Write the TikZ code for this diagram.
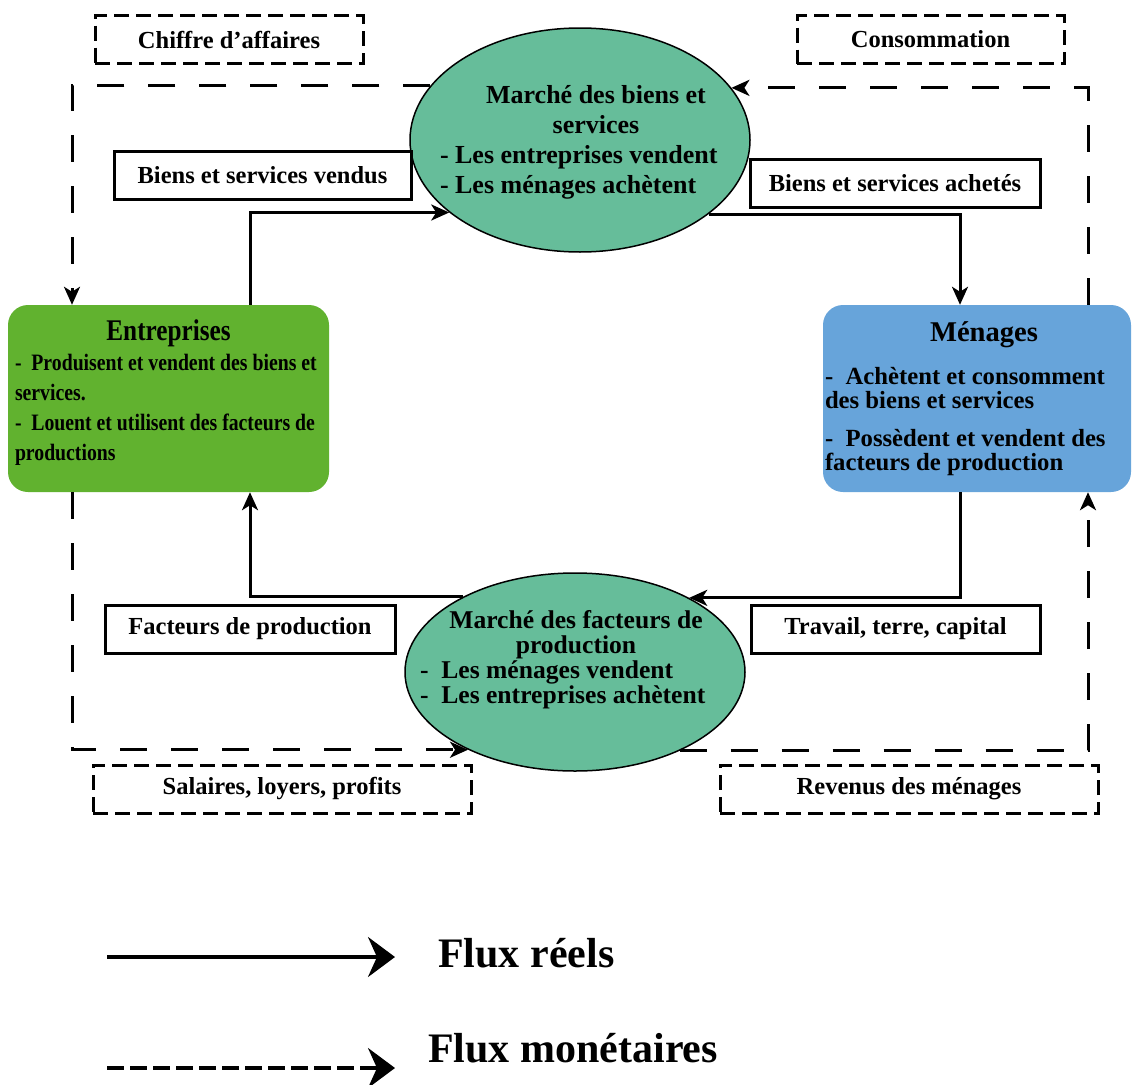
\documentclass[tikz,border=0pt]{standalone}
\usepackage{fontspec}
\setmainfont{Liberation Serif}
\newfontfamily\narrowserif[FakeStretch=0.84]{Liberation Serif}
\usetikzlibrary{shapes.geometric,arrows.meta}
\definecolor{marketgreen}{HTML}{66BD9A}
\definecolor{firmgreen}{HTML}{61B22F}
\definecolor{hhblue}{HTML}{67A4DA}
\lineskiplimit=-100pt

\tikzset{
  flowlabel/.style={draw, line width=3pt, font=\fontsize{24.5}{28}\selectfont\bfseries,
    minimum height=48pt, inner sep=0pt},
  moneylabel/.style={flowlabel, dash pattern=on 15pt off 7pt},
  market/.style={ellipse, draw, line width=1.5pt, fill=marketgreen, inner sep=0pt},
  mtext/.style={inner sep=0pt},
  agent/.style={rectangle, rounded corners=20pt, inner sep=0pt, minimum height=187pt},
  real/.style={line width=3pt, -{Stealth[length=18pt,width=16pt,inset=5pt]}},
  money/.style={real, dash pattern=on 27pt off 24pt},
  legtext/.style={inner sep=0pt, anchor=west, font=\fontsize{42}{46}\selectfont\bfseries},
  realleg/.style={line width=3.5pt, -{Stealth[length=27pt,width=40pt,inset=9pt]}},
  moneyleg/.style={realleg, dash pattern=on 17pt off 6pt}
}

\begin{document}
\begin{tikzpicture}[x=1pt,y=-1pt]
\useasboundingbox (0,0) rectangle (1132,1084);

% the two markets
\node [market, minimum width=340pt, minimum height=224pt] (bsm) at (580,140) {};
\node [market, minimum width=340pt, minimum height=198pt] (fpm) at (575,672) {};
\node [mtext, font=\fontsize{26}{30}\selectfont\bfseries] (bsmtxt) at (596,142)
  {\begin{minipage}{312pt}\centering Marché des biens et\\ services\par
   \raggedright - Les entreprises vendent\\ - Les ménages achètent\end{minipage}};
\node [mtext, font=\fontsize{25.6}{25}\selectfont\bfseries] (fpmtxt) at (576,660)
  {\begin{minipage}{312pt}\centering Marché des facteurs de\\ production\par
   \raggedright -~~Les ménages vendent\\ -~~Les entreprises achètent\end{minipage}};

% the two agents
\node [agent, fill=firmgreen, minimum width=321pt] (ent) at (168.5,398.5)
  {\begin{minipage}{307pt}{\centering\narrowserif\fontsize{30}{30}\selectfont\bfseries Entreprises\par}
   \raggedright\narrowserif\fontsize{23.5}{30}\selectfont\bfseries
   -~~Produisent et vendent des biens et\\ services.\\
   -~~Louent et utilisent des facteurs de\\ productions\par\vspace{12pt}\end{minipage}};
\node [agent, fill=hhblue, minimum width=308pt] (men) at (977,398.5)
  {\begin{minipage}{304pt}{\centering\fontsize{28.6}{30}\selectfont\bfseries\hspace*{14pt}Ménages\par}
   \raggedright\fontsize{24.7}{24}\selectfont\bfseries\vspace{19pt}
   -~~Achètent et consomment\\ des biens et services\par\vspace{14pt}
   -~~Possèdent et vendent des\\ facteurs de production\end{minipage}};

% labels of the flows
\node [flowlabel, minimum width=297pt] (bsv) at (262.5,175) {Biens et services vendus};
\node [flowlabel, minimum width=290pt] (bsa) at (895,183.5) {Biens et services achetés};
\node [flowlabel, minimum width=290pt] (fp) at (250,629) {Facteurs de production};
\node [flowlabel, minimum width=289pt] (ttc) at (895.5,629) {Travail, terre, capital};
\node [moneylabel, minimum width=268pt] (cda) at (229,39.5) {Chiffre d’affaires};
\node [moneylabel, minimum width=267pt] (cons) at (930.5,39.5) {Consommation};
\node [moneylabel, minimum width=378pt] (slp) at (282,789) {Salaires, loyers, profits};
\node [moneylabel, minimum width=378pt] (rev) at (909,789) {Revenus des ménages};

% real flows
\draw [real] ([xshift=81.5]ent.north) |- (bsm.209.5);
\draw [real] (bsm.330.5) -| ([xshift=-17]men.north);
\draw [real] ([xshift=-17]men.south) |- (fpm.33.2);
\draw [real] (fpm.146.8) -| ([xshift=81.5]ent.south);

% money flows
\draw [money] ([xshift=111]men.north) |- (bsm.19.5);
\draw [money] (bsm.160.5) -| ([xshift=-96.5]ent.north);
\draw [money] ([xshift=-96.5]ent.south) |- (fpm.216.6);
\draw [money] (fpm.323.4) -| ([xshift=111]men.south);

% legend
\coordinate (lr0) at (107,957);
\coordinate (lr1) at (395,957);
\coordinate (lm0) at (107,1068);
\coordinate (lm1) at (395,1068);
\draw [realleg] (lr0) -- (lr1);
\draw [moneyleg] (lm0) -- (lm1);
\node [legtext] (lrtxt) at (438,953) {Flux réels};
\node [legtext] (lmtxt) at (428,1048) {Flux monétaires};
\end{tikzpicture}
\end{document}
